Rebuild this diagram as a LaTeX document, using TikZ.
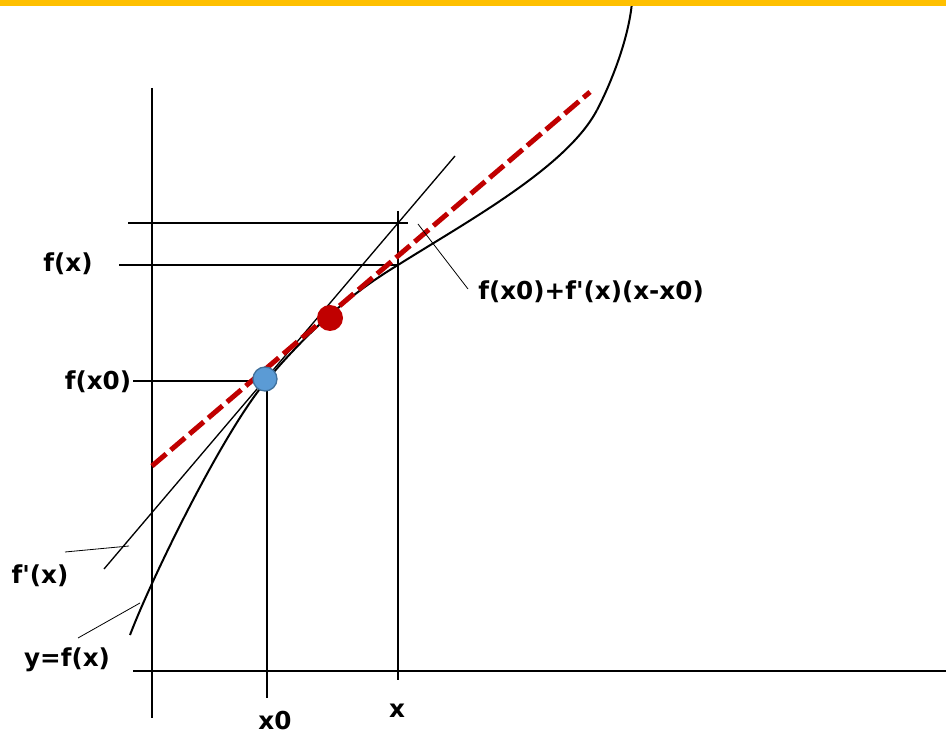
\documentclass[tikz,border=0pt]{standalone}
\usepackage{fontspec}
\setmainfont{DejaVu Sans}
\usepackage{tikz}

\definecolor{barorange}{HTML}{FFC000}
\definecolor{dashred}{HTML}{C00000}
\definecolor{dotblue}{HTML}{5B9BD5}
\definecolor{dotblueline}{HTML}{41719C}

\begin{document}
\begin{tikzpicture}[
        x=0.75pt,y=-0.75pt,
        axis/.style={line width=1.5pt},
        leader/.style={line width=0.6pt},
        lbl/.style={font=\fontsize{18.5}{21}\selectfont\bfseries,inner sep=0pt},
        secant/.style={dashred,line width=3.75pt,dash pattern=on 14pt off 4.5pt}
      ]
      \useasboundingbox (0,0) rectangle (946,737);
      % frame of the plot
      \coordinate (ytop) at (152,88);
      \coordinate (ybot) at (152,718);
      \coordinate (xleft) at (133,671);
      \coordinate (xright) at (946,671);
      \coordinate (p0) at (265,379);
      \coordinate (p1) at (330,318);
      \draw[axis] (ytop) -- (ybot);
      \draw[axis] (xleft) -- (xright);
      \draw[axis] (267,380) -- (267,698);
      \draw[axis] (398,211) -- (398,680);
      \draw[axis] (133,381) -- (265,381);
      \draw[axis] (119,265) -- (398,265);
      \draw[axis] (128,223) -- (408,223);
      % tangent at x0
      \draw[line width=1pt] (104,569) -- (455,156);
      % y=f(x)
      \draw[line width=1.5pt] (130,635) .. controls (150,582) and (222,433) .. (267,380);
      \draw[line width=1.5pt] (267,380) .. controls (312,327) and (353,292) .. (398,265);
      \draw[line width=1.5pt] (398,265) .. controls (468,221) and (567,167) .. (597,110);
      \draw[line width=1.5pt] (597,110) .. controls (612,81.5) and (629,37) .. (632,2);
      % secant
      \draw[secant] (152,466) -- (590,92);
      \filldraw[fill=dotblue,draw=dotblueline,line width=1pt] (p0) circle [radius=9pt];
      \fill[dashred] (p1) circle [radius=9.75pt];
      % labels
      \node[lbl] (fx) at (68,264) {f(x)};
      \node[lbl] (fx0) at (98,382) {f(x0)};
      \node[lbl] (fpx) at (40,576) {f\textquotesingle(x)};
      \node[lbl] (yfx) at (67,660) {y=f(x)};
      \node[lbl] (x0) at (275,721) {x0};
      \node[lbl] (xx) at (397,711) {x};
      \node[lbl,anchor=west] (lin) at (478,292) {f(x0)+f\textquotesingle(x)(x-x0)};
      \coordinate (lin-a) at (418,224);
      \coordinate (lin-b) at (468,289);
      \coordinate (fpx-a) at (65,552);
      \coordinate (fpx-b) at (129,546);
      \coordinate (yfx-a) at (78,638);
      \coordinate (yfx-b) at (140,603);
      \draw[leader] (lin-a) -- (lin-b);
      \draw[leader] (fpx-a) -- (fpx-b);
      \draw[leader] (yfx-a) -- (yfx-b);
      \fill[barorange] (0,0) rectangle (946,6);
    \end{tikzpicture}
\end{document}
